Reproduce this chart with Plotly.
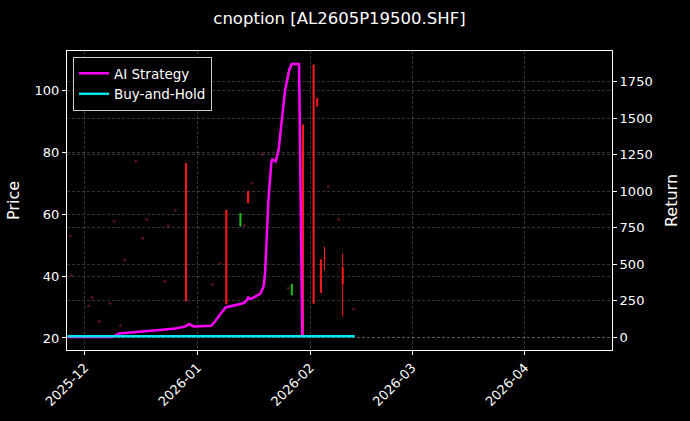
import plotly.graph_objects as go

# candles (price axis)
candle_dates = ["2025-12-28 20:00", "2026-01-08 22:00", "2026-01-12 19:00", "2026-01-14 22:00",
                "2026-01-26 22:00", "2026-01-30 00:00", "2026-02-01 22:00", "2026-02-02 22:00",
                "2026-02-03 22:00", "2026-02-04 22:00", "2026-02-09 22:00"]
candle_open = [76.5, 61.4, 56.2, 67.5, 33.9, 89.0, 108.4, 97.6, 45.3, 46.2, 42.8]
candle_high = [76.5, 61.4, 60.3, 67.5, 37.4, 89.0, 108.4, 97.6, 45.3, 49.5, 47.4]
candle_low = [32.0, 31.0, 56.2, 63.7, 33.9, 21.0, 31.2, 95.0, 34.7, 41.9, 26.9]
candle_close = [32.0, 31.0, 60.3, 63.7, 37.4, 21.0, 31.2, 95.0, 34.7, 45.6, 37.4]

# flat bars (open == close), barely visible
flat_dates = ["2025-11-27 00:00", "2025-11-27 07:00", "2025-12-02 00:00", "2025-12-03 00:00",
              "2025-12-05 00:00", "2025-12-07 22:00", "2025-12-09 02:00", "2025-12-10 19:00",
              "2025-12-12 00:00", "2025-12-15 00:00", "2025-12-16 22:00", "2025-12-18 00:00",
              "2025-12-22 22:00", "2025-12-23 22:00", "2025-12-25 22:00", "2026-01-05 02:00",
              "2026-01-07 02:00", "2026-01-13 22:00", "2026-01-16 00:00", "2026-01-18 17:00",
              "2026-01-26 00:00", "2026-02-05 22:00", "2026-02-08 19:00", "2026-02-12 22:00"]
flat_price = [53.0, 40.3, 30.4, 33.1, 25.3, 31.2, 57.8, 24.0, 45.2, 77.2, 52.3, 58.4,
              38.3, 56.3, 61.3, 37.3, 44.2, 56.5, 70.2, 79.4, 36.1, 69.0, 58.4, 29.4]

# strategy returns (return axis)
ai_dates = ["2025-11-26 05:00", "2025-12-08 12:00", "2025-12-10 10:00", "2025-12-16 22:00",
            "2025-12-22 07:00", "2025-12-25 22:00", "2025-12-28 17:00", "2025-12-29 17:00",
            "2025-12-30 22:00", "2026-01-04 17:00", "2026-01-05 14:00", "2026-01-06 22:00",
            "2026-01-08 17:00", "2026-01-13 07:00", "2026-01-14 05:00", "2026-01-14 22:00",
            "2026-01-15 14:00", "2026-01-18 07:00", "2026-01-19 05:00", "2026-01-19 14:00",
            "2026-01-20 02:00", "2026-01-20 12:00", "2026-01-21 07:00", "2026-01-21 14:00",
            "2026-01-22 12:00", "2026-01-23 07:00", "2026-01-25 02:00", "2026-01-26 05:00",
            "2026-01-26 22:00", "2026-01-28 12:00", "2026-01-28 22:00", "2026-01-29 19:00"]
ai_return = [0, 0, 25, 36, 50, 59, 73, 89, 73, 77, 100, 146, 203, 230, 241, 271,
             260, 298, 350, 444, 670, 943, 1199, 1217, 1205, 1285, 1695, 1832,
             1873, 1873, 1873, 10]

bh_dates = ["2025-11-26 05:00", "2025-12-20 00:00", "2026-01-15 00:00", "2026-02-13 05:00"]
bh_return = [5, 5, 5, 5]

month_ticks = ["2025-12-01", "2026-01-01", "2026-02-01", "2026-03-01", "2026-04-01"]
month_labels = ["2025-12", "2026-01", "2026-02", "2026-03", "2026-04"]

fig = go.Figure()
fig.add_trace(go.Candlestick(
    x=candle_dates, open=candle_open, high=candle_high, low=candle_low, close=candle_close,
    increasing=dict(line=dict(color="#1fbf1f", width=1), fillcolor="#1fbf1f"),
    decreasing=dict(line=dict(color="#ff1a1a", width=1), fillcolor="#ff1a1a"),
    whiskerwidth=0, showlegend=False, yaxis="y"))
fig.add_trace(go.Scatter(
    x=flat_dates, y=flat_price, mode="markers", showlegend=False,
    marker=dict(color="rgba(190,40,40,0.45)", size=3), yaxis="y"))
fig.add_trace(go.Scatter(
    x=ai_dates, y=ai_return, mode="lines", name="AI Strategy",
    line=dict(color="#ff00ff", width=2.5), yaxis="y2"))
fig.add_trace(go.Scatter(
    x=bh_dates, y=bh_return, mode="lines", name="Buy-and-Hold",
    line=dict(color="#00e5ee", width=2.5), yaxis="y2"))

grid = "rgba(255,255,255,0.2)"
fig.update_layout(
    width=690, height=421,
    margin=dict(l=67, r=73, t=51, b=70),
    paper_bgcolor="black", plot_bgcolor="black",
    font=dict(family="DejaVu Sans", size=13, color="white"),
    boxgap=0.6,
    title=dict(text="cnoption [AL2605P19500.SHF]", x=0.5, xanchor="center",
               xref="paper", yref="container", y=1 - 18 / 421, yanchor="middle",
               font=dict(size=16.5, color="white")),
    xaxis=dict(type="date", range=["2025-11-26 02:00", "2026-04-25 00:00"],
               tickvals=month_ticks, ticktext=month_labels, tickangle=-45,
               showline=True, linecolor="white", linewidth=1, mirror=True,
               ticks="outside", tickcolor="white", ticklen=4,
               showgrid=True, gridcolor=grid, griddash="3px,2px", gridwidth=0.6,
               rangeslider=dict(visible=False), zeroline=False),
    yaxis=dict(range=[16.1, 112.9], tickvals=[20, 40, 60, 80, 100],
               title=dict(text="Price", standoff=10),
               showline=True, linecolor="white", linewidth=1, mirror=True,
               ticks="outside", tickcolor="white", ticklen=4,
               showgrid=True, gridcolor=grid, griddash="3px,2px", gridwidth=0.6, zeroline=False),
    yaxis2=dict(range=[-89, 1962], dtick=250, tick0=0, overlaying="y", side="right",
                title=dict(text="Return", standoff=14),
                ticks="outside", tickcolor="white", ticklen=4,
                showgrid=True, gridcolor=grid, griddash="3px,2px", gridwidth=0.6, zeroline=False),
    legend=dict(x=0.011, y=0.98, xanchor="left", yanchor="top",
                bgcolor="black", bordercolor="rgba(255,255,255,0.8)", borderwidth=1,
                font=dict(size=13.5, color="white")),
)

# the page itself: no body margin, black behind the figure, no modebar
fig.write_html("out.html", config={"displayModeBar": False},
               post_script="document.body.style.margin='0';document.body.style.background='black';")
